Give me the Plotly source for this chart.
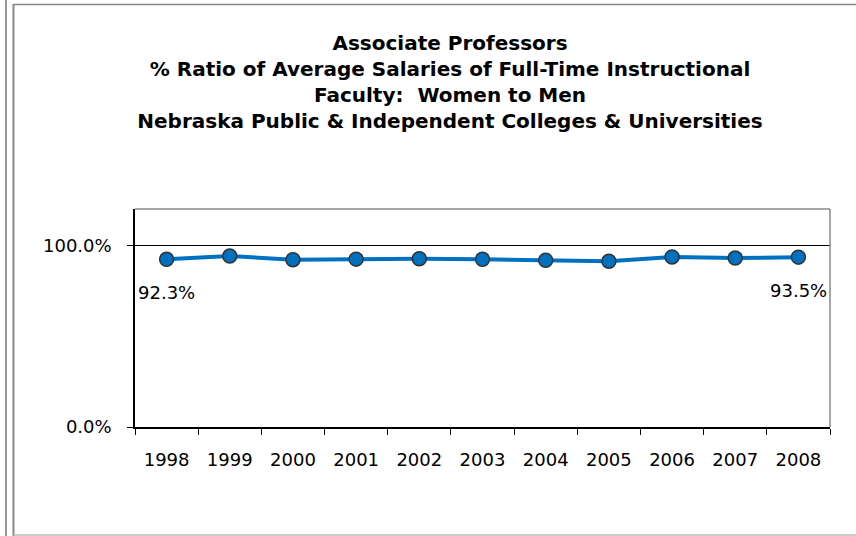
import plotly.graph_objects as go

years = ["1998", "1999", "2000", "2001", "2002", "2003", "2004", "2005", "2006", "2007", "2008"]
ratio = [92.3, 94.1, 92.1, 92.4, 92.6, 92.3, 91.8, 91.2, 93.6, 93.0, 93.5]
label_years = ["1998", "2008"]
y_ticks = [0, 100]
y_tick_text = ["0.0%", "100.0%"]

title_lines = [
    "Associate Professors",
    "% Ratio of Average Salaries of Full-Time Instructional",
    "Faculty:  Women to Men",
    "Nebraska Public & Independent Colleges & Universities",
]

FONT = "DejaVu Sans, Liberation Sans, Arial"
W, H = 856, 536
L, R, T, B = 135, 26, 209, 109

fig = go.Figure()
fig.add_trace(go.Scatter(
    x=years, y=ratio, mode="lines+markers",
    line=dict(color="#0070C0", width=4),
    marker=dict(size=14, color="#0070C0", line=dict(color="#333333", width=1.5)),
    cliponaxis=False, showlegend=False, hoverinfo="skip",
))

annotations = []
for i, (yr, v) in enumerate(zip(years, ratio)):
    if yr in label_years:
        annotations.append(dict(
            x=i, y=v, xref="x", yref="y", text=f"{v:.1f}%", showarrow=False,
            xanchor="center", yanchor="middle", yshift=-33,
            font=dict(family=FONT, size=18, color="#000000"),
        ))

def px_x(p):
    return (p - L) / (W - L - R)

def px_y(p):
    return (H - B - p) / (H - T - B)

shapes = [
    dict(type="line", xref="paper", yref="paper", x0=0, x1=1, y0=1, y1=1,
         line=dict(color="#888888", width=1.5)),
    dict(type="line", xref="paper", yref="paper", x0=1, x1=1, y0=0, y1=1,
         line=dict(color="#888888", width=1.5)),
    dict(type="line", xref="paper", yref="paper", x0=px_x(6), x1=px_x(6), y0=px_y(536), y1=px_y(0),
         line=dict(color="#999999", width=2)),
    dict(type="line", xref="paper", yref="paper", x0=px_x(13.5), x1=px_x(13.5), y0=px_y(536), y1=px_y(4),
         line=dict(color="#888888", width=2)),
    dict(type="line", xref="paper", yref="paper", x0=px_x(13.5), x1=px_x(856), y0=px_y(4.5), y1=px_y(4.5),
         line=dict(color="#888888", width=1.5)),
    dict(type="line", xref="paper", yref="paper", x0=px_x(13.5), x1=px_x(856), y0=px_y(535), y1=px_y(535),
         line=dict(color="#bbbbbb", width=1.5)),
]

fig.update_layout(
    width=W, height=H,
    margin=dict(l=L, r=R, t=T, b=B),
    paper_bgcolor="#ffffff", plot_bgcolor="#ffffff",
    font=dict(family=FONT, size=18, color="#000000"),
    title=dict(
        text="<b>" + "<br>".join(title_lines) + "</b>",
        x=450 / W, xanchor="center", xref="container",
        y=1 - 50 / H, yanchor="top", yref="container",
        font=dict(family=FONT, size=20, color="#000000"),
    ),
    xaxis=dict(
        type="category", showgrid=False, tickson="boundaries",
        ticks="outside", ticklen=6, tickcolor="#000000",
        showline=True, linecolor="#000000", linewidth=1.5,
        tickfont=dict(size=18), ticklabelstandoff=16,
        range=[-0.5, 10.5], fixedrange=True,
    ),
    yaxis=dict(
        range=[0, 120], tickvals=y_ticks, ticktext=y_tick_text,
        showgrid=True, gridcolor="#000000", gridwidth=1,
        ticks="outside", ticklen=6, tickcolor="#000000",
        showline=True, linecolor="#000000", linewidth=1.5,
        zeroline=False, tickfont=dict(size=18), ticklabelstandoff=12,
        fixedrange=True,
    ),
    shapes=shapes,
    annotations=annotations,
)

fig.write_html(
    "out.html",
    config={"displayModeBar": False},
    post_script="document.body.style.margin='0';document.body.style.overflow='hidden';",
)
